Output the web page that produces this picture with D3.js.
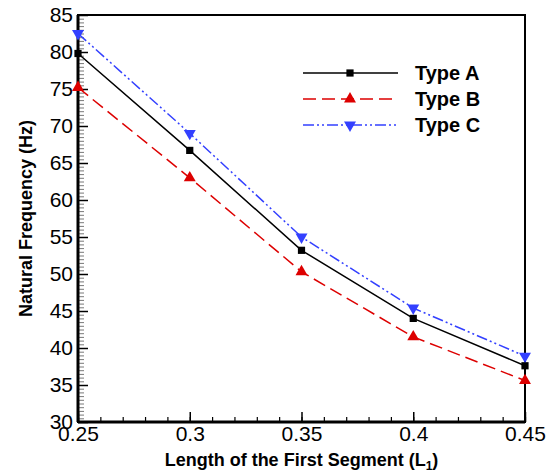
<!DOCTYPE html>
<html>
<head>
<meta charset="utf-8">
<script src="https://cdn.jsdelivr.net/npm/d3@7"></script>
<style>
  body { margin: 0; background: #fff; }
  text { font-family: "Liberation Sans", Arial, sans-serif; }
</style>
</head>
<body>
<div id="graph"></div>
<script>
// données
const longueurs = [0.25, 0.3, 0.35, 0.4, 0.45]
const typeA = [79.8, 66.7, 53.2, 44.0, 37.6]
const typeB = [75.2, 63.0, 50.3, 41.5, 35.6]
const typeC = [82.5, 69.0, 55.0, 45.4, 38.9]
const nomsSeries = ["Type A", "Type B", "Type C"]
const xTicks = [0.25, 0.3, 0.35, 0.4, 0.45]
const yTicks = [30, 35, 40, 45, 50, 55, 60, 65, 70, 75, 80, 85]

const series = [
    { nom: nomsSeries[0], valeurs: typeA, couleur: "#000000", dash: null, symbole: d3.symbolSquare, rot: 0 },
    { nom: nomsSeries[1], valeurs: typeB, couleur: "#dd0000", dash: "13,6", symbole: d3.symbolTriangle, rot: 0 },
    { nom: nomsSeries[2], valeurs: typeC, couleur: "#3340ff", dash: "11,3,2,3,2,3", symbole: d3.symbolTriangle, rot: 180 }
]

// marges
let margin = { top: 15, right: 30, bottom: 54, left: 78 };
let width = 555 - margin.left - margin.right,
    height = 476 - margin.top - margin.bottom;

let svg = d3.select("#graph")
    .append("svg")
    .attr("width", 555)
    .attr("height", 476)

let g = svg.append("g")
    .attr("transform", "translate(" + margin.left + "," + margin.top + ")");

let x = d3.scaleLinear().domain([0.25, 0.45]).range([0, width])
let y = d3.scaleLinear().domain([30, 85]).range([height, 0])

// graduations mineures
g.append("g")
    .attr("transform", "translate(0," + height + ")")
    .call(d3.axisBottom(x).tickValues(d3.range(0.25, 0.4501, 0.01)).tickSize(-5).tickFormat(""))
    .call(a => a.select(".domain").remove())
    .selectAll("line").attr("stroke-width", 1.2)

g.append("g")
    .call(d3.axisLeft(y).tickValues(d3.range(30, 85.01, 0.5)).tickSize(-6).tickFormat(""))
    .call(a => a.select(".domain").remove())
    .selectAll("line").attr("stroke-width", 0.8).attr("stroke", "#555")

// graduations majeures
let xAxis = g.append("g")
    .attr("transform", "translate(0," + height + ")")
    .call(d3.axisBottom(x).tickValues(xTicks).tickSize(-10).tickPadding(4).tickFormat(d => d3.format("")(+d.toFixed(2))))
xAxis.select(".domain").remove()
xAxis.selectAll("line").attr("stroke-width", 1.5)
xAxis.selectAll("text").style("font-size", "21px").attr("fill", "#000").attr("dy", "0.7em")

let yAxis = g.append("g")
    .call(d3.axisLeft(y).tickValues(yTicks).tickSize(-10).tickPadding(5))
yAxis.select(".domain").remove()
yAxis.selectAll("line").attr("stroke-width", 1.5)
yAxis.selectAll("text").style("font-size", "21px").attr("fill", "#000")

// cadre
g.append("rect")
    .attr("width", width)
    .attr("height", height)
    .attr("fill", "none")
    .attr("stroke", "#000")
    .attr("stroke-width", 2)
g.append("line").attr("x1", 0).attr("x2", 0).attr("y1", 0).attr("y2", height)
    .attr("stroke", "#000").attr("stroke-width", 3)
g.append("line").attr("x1", 0).attr("x2", width).attr("y1", height).attr("y2", height)
    .attr("stroke", "#000").attr("stroke-width", 3)

// courbes
let ligne = d3.line()
    .x((d, i) => x(longueurs[i]))
    .y(d => y(d))

let taille = s => s === d3.symbolSquare ? 52 : 62

series.forEach(s => {
    g.append("path")
        .datum(s.valeurs)
        .attr("d", ligne)
        .attr("fill", "none")
        .attr("stroke", s.couleur)
        .attr("stroke-width", 1.5)
        .attr("stroke-dasharray", s.dash)

    g.selectAll(null)
        .data(s.valeurs)
        .enter().append("path")
        .attr("d", d3.symbol().type(s.symbole).size(taille(s.symbole)))
        .attr("transform", (d, i) => "translate(" + x(longueurs[i]) + "," + y(d) + ") rotate(" + s.rot + ")")
        .attr("fill", s.couleur)
})

// légende
let legend = svg.selectAll(".legend")
    .data(series)
    .enter().append("g")
    .attr("class", "legend")
    .attr("transform", (d, i) => "translate(303," + (73 + i * 26) + ")")

legend.append("line")
    .attr("x1", 0).attr("x2", 95)
    .attr("stroke", d => d.couleur)
    .attr("stroke-width", 1.5)
    .attr("stroke-dasharray", d => d.dash)

legend.append("path")
    .attr("d", d => d3.symbol().type(d.symbole).size(taille(d.symbole))())
    .attr("transform", d => "translate(47,0) rotate(" + d.rot + ")")
    .attr("fill", d => d.couleur)

legend.append("text")
    .attr("x", 112)
    .attr("dy", "0.36em")
    .text(d => d.nom)
    .style("font-size", "20px")
    .style("font-weight", "bold")

// titres des axes
let titreX = svg.append("text")
    .attr("x", margin.left + width / 2)
    .attr("y", 466)
    .attr("text-anchor", "middle")
    .style("font-size", "18px")
    .style("font-weight", "bold")
titreX.append("tspan").text("Length of the First Segment (L")
titreX.append("tspan").text("1").style("font-size", "12px").attr("dy", 4)
titreX.append("tspan").text(")").attr("dy", -4)

svg.append("text")
    .attr("transform", "translate(32," + (margin.top + height / 2) + ") rotate(-90)")
    .attr("text-anchor", "middle")
    .text("Natural Frequency (Hz)")
    .style("font-size", "18px")
    .style("font-weight", "bold")
</script>
</body>
</html>
